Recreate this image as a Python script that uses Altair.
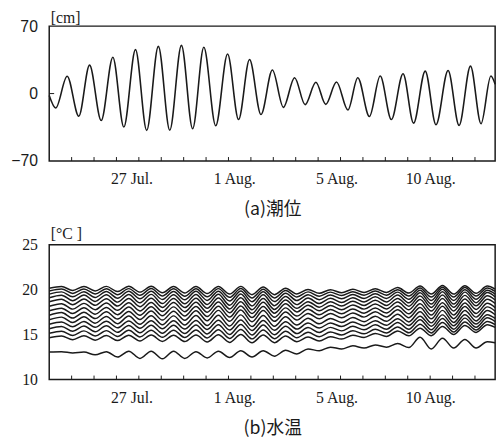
import altair as alt
import pandas as pd

# ---------------- (a) tide level [cm] ----------------
tide_day = [0, 0.29, 0.80, 1.32, 1.80, 2.32, 2.84, 3.33, 3.85, 4.35,
            4.87, 5.38, 5.90, 6.40, 6.90, 7.43, 7.96, 8.45, 8.94, 9.45,
            9.96, 10.45, 10.95, 11.42, 11.90, 12.34, 12.82, 13.33, 13.77, 14.29,
            14.77, 15.27, 15.79, 16.26, 16.78, 17.26, 17.80, 18.29, 18.80, 19.27,
            19.71, 19.9]
tide_cm = [-2, -15, 18, -23.5, 29.5, -28, 37.7, -34.8, 45.6, -38.2,
           49, -38, 50, -36.5, 48, -33.4, 41, -27, 35.3, -21.8,
           24.4, -14.3, 16.5, -11.5, 11.7, -11.2, 12, -17, 16.5, -23.8,
           18.2, -27, 20.6, -30.7, 23.3, -32.4, 24, -33, 28.5, -31.3,
           18.2, 9.7]

# ---------------- (b) water temperature [°C] ----------------
temp_day = [0, 0.55, 1.05, 1.55, 2.05, 2.55, 3.05, 3.55, 4.05, 4.55,
            5.05, 5.55, 6.05, 6.55, 7.05, 7.55, 8.05, 8.55, 9.05, 9.55,
            10.05, 10.55, 11.05, 11.55, 12.05, 12.55, 13.05, 13.55, 14.05, 14.55,
            15.05, 15.55, 16.05, 16.55, 17.05, 17.55, 18.05, 18.55, 19.05, 19.55,
            19.9]
temp_1 = [20.15, 20.34, 19.91, 20.35, 19.85, 20.36, 19.78, 20.37, 19.72, 20.37,
          19.65, 20.34, 19.62, 20.35, 19.56, 20.35, 19.50, 20.36, 19.44, 20.29,
          19.44, 20.16, 19.52, 20.02, 19.59, 19.99, 19.66, 20.03, 19.69, 20.09,
          19.69, 20.23, 19.62, 20.40, 19.51, 20.47, 19.50, 20.43, 19.60, 20.39, 20.05]
temp_2 = [19.85, 20.07, 19.58, 20.08, 19.51, 20.10, 19.44, 20.11, 19.37, 20.12,
          19.30, 20.09, 19.27, 20.10, 19.20, 20.11, 19.14, 20.12, 19.07, 20.05,
          19.08, 19.90, 19.17, 19.75, 19.26, 19.72, 19.34, 19.76, 19.38, 19.84,
          19.38, 19.99, 19.29, 20.19, 19.17, 20.27, 19.17, 20.23, 19.29, 20.19, 19.80]
temp_3 = [19.50, 19.75, 19.20, 19.77, 19.13, 19.79, 19.05, 19.81, 18.98, 19.82,
          18.90, 19.79, 18.87, 19.81, 18.80, 19.82, 18.73, 19.84, 18.66, 19.76,
          18.67, 19.60, 18.78, 19.43, 18.88, 19.40, 18.98, 19.45, 19.02, 19.53,
          19.02, 19.72, 18.93, 19.94, 18.79, 20.03, 18.79, 19.98, 18.92, 19.93, 19.50]
temp_4 = [19.10, 19.38, 18.77, 19.40, 18.69, 19.43, 18.61, 19.45, 18.53, 19.47,
          18.45, 19.44, 18.42, 19.46, 18.34, 19.48, 18.27, 19.50, 18.19, 19.42,
          18.21, 19.24, 18.33, 19.06, 18.45, 19.03, 18.56, 19.09, 18.62, 19.20,
          18.62, 19.40, 18.53, 19.66, 18.39, 19.77, 18.39, 19.72, 18.55, 19.68, 19.20]
temp_5 = [18.65, 18.94, 18.32, 18.96, 18.25, 18.99, 18.17, 19.01, 18.10, 19.04,
          18.02, 19.01, 18.00, 19.04, 17.92, 19.06, 17.85, 19.09, 17.77, 19.01,
          17.80, 18.84, 17.92, 18.66, 18.05, 18.64, 18.17, 18.70, 18.23, 18.81,
          18.24, 19.02, 18.16, 19.29, 18.02, 19.40, 18.03, 19.36, 18.20, 19.33, 18.85]
temp_6 = [18.15, 18.44, 17.83, 18.47, 17.77, 18.51, 17.70, 18.54, 17.63, 18.57,
          17.57, 18.56, 17.55, 18.59, 17.48, 18.62, 17.42, 18.66, 17.35, 18.59,
          17.38, 18.42, 17.52, 18.26, 17.65, 18.24, 17.77, 18.30, 17.83, 18.41,
          17.84, 18.62, 17.76, 18.89, 17.62, 19.00, 17.63, 18.96, 17.80, 18.93, 18.45]
temp_7 = [17.65, 17.94, 17.34, 17.98, 17.27, 18.02, 17.21, 18.06, 17.15, 18.09,
          17.09, 18.08, 17.07, 18.12, 17.01, 18.16, 16.95, 18.19, 16.89, 18.13,
          16.92, 17.97, 17.06, 17.81, 17.20, 17.79, 17.32, 17.85, 17.38, 17.96,
          17.39, 18.17, 17.31, 18.44, 17.17, 18.55, 17.18, 18.51, 17.35, 18.48, 18.00]
temp_8 = [17.15, 17.45, 16.84, 17.49, 16.78, 17.53, 16.72, 17.57, 16.67, 17.61,
          16.61, 17.60, 16.60, 17.65, 16.54, 17.69, 16.48, 17.73, 16.42, 17.67,
          16.47, 17.51, 16.61, 17.35, 16.75, 17.34, 16.87, 17.41, 16.94, 17.53,
          16.96, 17.75, 16.88, 18.02, 16.75, 18.14, 16.77, 18.11, 16.94, 18.08, 17.60]
temp_9 = [16.65, 16.94, 16.34, 16.98, 16.27, 17.02, 16.21, 17.06, 16.15, 17.09,
          16.09, 17.08, 16.07, 17.12, 16.01, 17.16, 15.95, 17.19, 15.89, 17.13,
          15.92, 16.97, 16.06, 16.81, 16.20, 16.80, 16.34, 16.89, 16.43, 17.03,
          16.47, 17.26, 16.41, 17.55, 16.30, 17.69, 16.34, 17.68, 16.52, 17.67, 17.20]
temp_10 = [16.15, 16.41, 15.87, 16.45, 15.81, 16.48, 15.75, 16.52, 15.70, 16.54,
           15.64, 16.53, 15.62, 16.57, 15.57, 16.60, 15.51, 16.63, 15.46, 16.57,
           15.48, 16.43, 15.61, 16.28, 15.73, 16.29, 15.89, 16.39, 15.99, 16.53,
           16.04, 16.77, 16.01, 17.05, 15.93, 17.19, 15.98, 17.20, 16.17, 17.21, 16.80]
temp_11 = [15.65, 15.91, 15.37, 15.95, 15.31, 15.98, 15.25, 16.02, 15.20, 16.04,
           15.14, 16.03, 15.12, 16.07, 15.07, 16.10, 15.01, 16.13, 14.96, 16.07,
           14.98, 15.93, 15.11, 15.78, 15.23, 15.80, 15.41, 15.92, 15.53, 16.08,
           15.60, 16.34, 15.59, 16.64, 15.53, 16.80, 15.60, 16.83, 15.81, 16.86, 16.45]
temp_12 = [15.15, 15.38, 14.90, 15.41, 14.84, 15.44, 14.79, 15.47, 14.74, 15.49,
           14.69, 15.48, 14.67, 15.51, 14.62, 15.54, 14.57, 15.56, 14.52, 15.51,
           14.54, 15.38, 14.65, 15.25, 14.76, 15.28, 14.95, 15.42, 15.08, 15.60,
           15.18, 15.85, 15.20, 16.15, 15.18, 16.33, 15.28, 16.39, 15.50, 16.45, 16.10]
temp_13 = [14.65, 14.85, 14.43, 14.88, 14.38, 14.90, 14.33, 14.93, 14.29, 14.94,
           14.24, 14.93, 14.22, 14.96, 14.18, 14.98, 14.13, 15.00, 14.09, 14.95,
           14.10, 14.84, 14.20, 14.72, 14.29, 14.77, 14.50, 14.93, 14.67, 15.13,
           14.79, 15.40, 14.86, 15.71, 14.88, 15.90, 15.01, 16.00, 15.24, 16.09, 15.80]
temp_14 = [13.05, 13.10, 12.95, 13.05, 12.75, 13.10, 12.50, 13.15, 12.35, 13.15,
           12.30, 13.15, 12.35, 13.10, 12.40, 13.15, 12.45, 13.20, 12.50, 13.20,
           12.60, 13.25, 12.85, 13.40, 13.20, 13.60, 13.40, 13.75, 13.50, 13.85,
           13.60, 14.00, 13.55, 14.70, 13.40, 14.60, 13.50, 14.45, 13.50, 14.20, 14.10]
temp_series = [temp_1, temp_2, temp_3, temp_4, temp_5, temp_6, temp_7,
               temp_8, temp_9, temp_10, temp_11, temp_12, temp_13, temp_14]

# ---------------- axes text ----------------
day_ticks = list(range(1, 20))
date_label_days = [3.67, 8.26, 12.82, 17.0]
date_labels = ["27 Jul.", "1 Aug.", "5 Aug.", "10 Aug."]
tide_ticks = [-70, 0, 70]
temp_ticks = [10, 15, 20, 25]
zero_tick = [0]

INK = "#1a1a1a"
SERIF = "Liberation Serif"
SANS = "Liberation Sans"
CJK = "Noto Sans CJK JP"
W, H = 453, 137

tide_df = pd.DataFrame({"day": tide_day, "level": tide_cm})
rows = []
for k, series in enumerate(temp_series):
    for d, v in zip(temp_day, series):
        rows.append({"day": d, "temp": v, "sensor": k})
temp_df = pd.DataFrame(rows)
tick_df = pd.DataFrame({"day": day_ticks})
zero_df = pd.DataFrame({"level": zero_tick})

label_expr = ("[" + ",".join("'%s'" % s for s in date_labels) + "][indexof(["
              + ",".join(str(v) for v in date_label_days) + "], datum.value)]")

xscale = alt.Scale(domain=[0, 19.9], nice=False, zero=False)


def xaxis(title):
    return alt.Axis(values=date_label_days, labelExpr=label_expr, ticks=False,
                    domain=False, grid=False, labelPadding=10, labelFont=SERIF,
                    labelFontSize=16, labelColor=INK, labelOverlap=False,
                    labelFlush=False, title=title, titleFont=CJK, titleFontSize=18,
                    titleFontWeight="normal", titleColor=INK, titlePadding=14.5)


def yaxis(title, values, font, title_y):
    return alt.Axis(values=values, ticks=False, domain=False, grid=False,
                    labelPadding=12, labelFont=font, labelFontSize=16,
                    labelColor=INK, minExtent=35, maxExtent=35,
                    title=title, titleAngle=0, titleX=1, titleY=title_y,
                    titleAlign="left", titleBaseline="alphabetic",
                    titleFont=SERIF, titleFontSize=16, titleFontWeight="normal",
                    titleColor=INK)


xaxis_a = xaxis("(a)潮位")
xaxis_b = xaxis("(b)水温")
yaxis_a = yaxis("[cm]", tide_ticks, SANS, -4)
yaxis_b = yaxis("[°C ]", temp_ticks, SERIF, -6)
yscale_a = alt.Scale(domain=[-70, 70], nice=False)
yscale_b = alt.Scale(domain=[10, 25], nice=False, zero=False)


def day_tick_layer(ax):
    return alt.Chart(tick_df).mark_rule(color=INK, strokeWidth=1).encode(
        x=alt.X("day:Q", scale=xscale, axis=ax),
        y=alt.value(H), y2=alt.value(H - 4))


line_a = alt.Chart(tide_df).mark_line(
    interpolate="monotone", color=INK, strokeWidth=1.6).encode(
    x=alt.X("day:Q", scale=xscale, axis=xaxis_a),
    y=alt.Y("level:Q", scale=yscale_a, axis=yaxis_a))
zero_a = alt.Chart(zero_df).mark_rule(color=INK, strokeWidth=1).encode(
    x=alt.value(0), x2=alt.value(5),
    y=alt.Y("level:Q", scale=yscale_a, axis=yaxis_a))
panel_a = alt.layer(line_a, day_tick_layer(xaxis_a), zero_a).properties(width=W, height=H)

line_b = alt.Chart(temp_df).mark_line(
    interpolate="monotone", color=INK, strokeWidth=1.5).encode(
    x=alt.X("day:Q", scale=xscale, axis=xaxis_b),
    y=alt.Y("temp:Q", scale=yscale_b, axis=yaxis_b),
    detail="sensor:N")
panel_b = alt.layer(line_b, day_tick_layer(xaxis_b)).properties(width=W, height=H)

chart = alt.vconcat(panel_a, panel_b, spacing=5).properties(
    padding={"left": 10, "top": 5, "right": 5, "bottom": 5},
    background="white",
).configure_view(stroke=INK, strokeWidth=1.5)

chart.save("out.html", embed_options={"renderer": "svg", "actions": False})
